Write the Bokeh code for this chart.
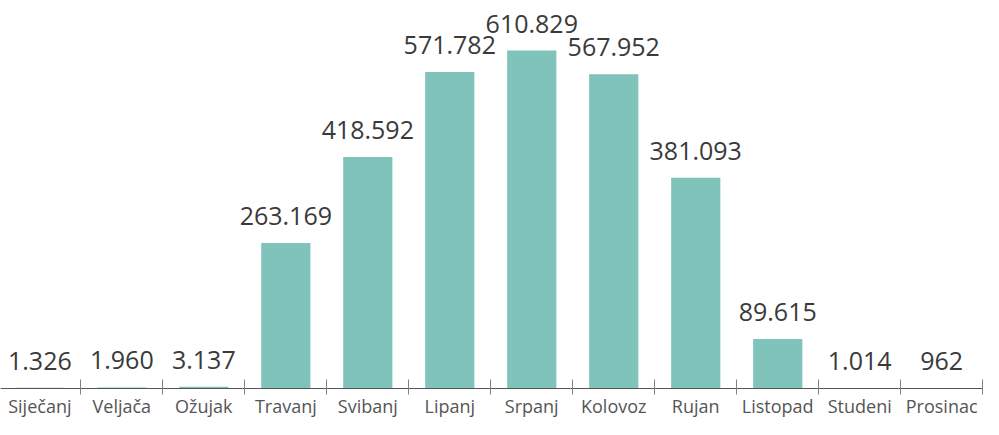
from bokeh.plotting import figure
from bokeh.models import ColumnDataSource, FixedTicker, Range1d
from bokeh.core.properties import value
from bokeh.embed import file_html
from bokeh.resources import INLINE

months = ["Siječanj", "Veljača", "Ožujak", "Travanj", "Svibanj", "Lipanj",
          "Srpanj", "Kolovoz", "Rujan", "Listopad", "Studeni", "Prosinac"]
visitors = [1326, 1960, 3137, 263169, 418592, 571782, 610829, 567952, 381093, 89615, 1014, 962]

xs = list(range(len(months)))
labels = [f"{v:,}".replace(",", ".") for v in visitors]
source = ColumnDataSource(dict(x=xs, top=visitors, label=labels))

p = figure(width=983, height=419, output_backend="svg", toolbar_location=None,
           x_range=Range1d(-0.48, 11.51), y_range=Range1d(-56000, 701200),
           min_border_left=0, min_border_right=0, min_border_top=0, min_border_bottom=0)
p.outline_line_color = None
p.grid.visible = False
p.yaxis.visible = False

p.vbar(x="x", top="top", width=0.6, bottom=0, source=source,
       fill_color="#80c3bb", line_color=None)

p.text(x="x", y="top", text="label", source=source, text_align="center",
       text_baseline="alphabetic", y_offset=-27, text_font=value("Open Sans"),
       text_font_size="25px", text_color="#3a3a3a")

ax = p.xaxis[0]
ax.fixed_location = 0
ax.ticker = FixedTicker(ticks=xs, minor_ticks=[i + 0.5 for i in xs])
ax.major_label_overrides = {i: m for i, m in enumerate(months)}
ax.major_tick_line_color = None
ax.major_tick_in = 0
ax.major_tick_out = 0
ax.minor_tick_line_color = "#808080"
ax.minor_tick_in = 9
ax.minor_tick_out = 6
ax.axis_line_color = "#555555"
ax.axis_line_width = 1
ax.axis_label_standoff = 0
ax.major_label_text_font = "Open Sans"
ax.major_label_text_font_size = "18px"
ax.major_label_text_color = "#555555"
ax.major_label_standoff = -1

open("out.html", "w").write(file_html(p, INLINE))
